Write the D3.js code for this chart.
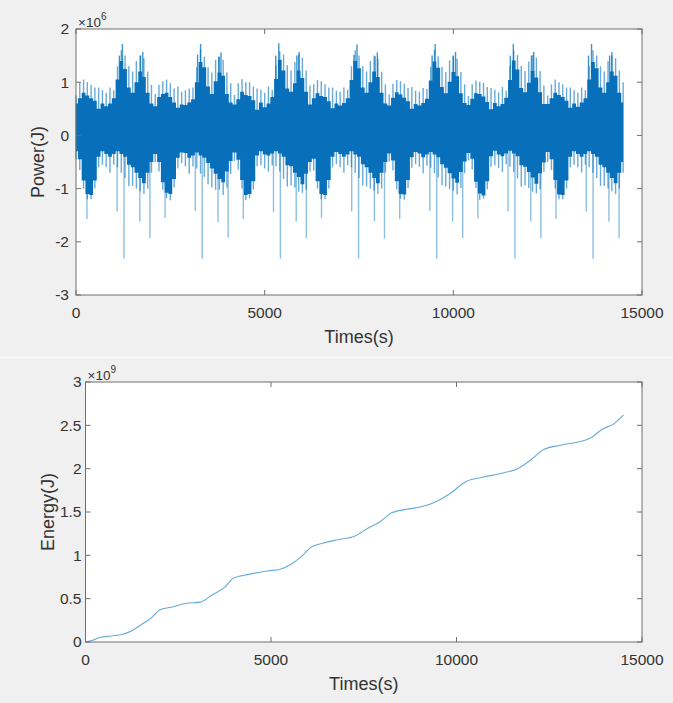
<!DOCTYPE html>
<html>
<head>
<meta charset="utf-8">
<script src="https://cdn.jsdelivr.net/npm/d3@7"></script>
<style>
  body { margin: 0; background: #f0f0f0; }
  svg { display: block; font-family: "Liberation Sans", Arial, sans-serif; }
</style>
</head>
<body>
<div id="chart"></div>
<script>
// power signal, binned every 100 s (values x1e6)
// dense dark band
const coreHi = [
  0.6, 0.7, 0.8, 0.75, 0.7, 0.65, 0.5, 0.6, 0.55, 0.6, 0.7, 1.05, 1.4, 1.25, 0.9, 0.8, 1.0, 1.2, 1.1, 0.8, 0.6,
  0.55, 0.72, 0.78, 0.8, 0.72, 0.62, 0.52, 0.58, 0.57, 0.62, 0.68, 1.0, 1.38, 1.28, 0.92, 0.78, 1.02, 1.18, 1.12, 0.78, 0.62,
  0.58, 0.68, 0.82, 0.76, 0.74, 0.66, 0.48, 0.62, 0.53, 0.6, 0.72, 1.06, 1.42, 1.22, 0.88, 0.82, 0.98, 1.22, 1.08, 0.82, 0.58,
  0.7, 0.79, 0.74, 0.72, 0.64, 0.51, 0.6, 0.56, 0.61, 0.7, 1.04, 1.4, 1.26, 0.9, 0.8, 1.0, 1.2, 1.1, 0.8, 0.6,
  0.56, 0.71, 0.81, 0.77, 0.71, 0.64, 0.5, 0.59, 0.56, 0.61, 0.69, 1.03, 1.39, 1.27, 0.91, 0.79, 1.01, 1.19, 1.11, 0.79, 0.61,
  0.57, 0.69, 0.79, 0.78, 0.73, 0.63, 0.49, 0.61, 0.55, 0.59, 0.71, 1.04, 1.41, 1.24, 0.89, 0.81, 0.99, 1.21, 1.09, 0.81, 0.59,
  0.59, 0.7, 0.8, 0.76, 0.72, 0.65, 0.52, 0.6, 0.54, 0.62, 0.7, 1.05, 1.38, 1.26, 0.9, 0.8, 1.0, 1.2, 1.12, 0.8, 0.62
];
const coreLo = [
  -0.3, -0.45, -0.85, -1.1, -1.12, -0.85, -0.4, -0.3, -0.35, -0.4, -0.35, -0.3, -0.35, -0.4, -0.55, -0.6, -0.7, -0.8, -0.9, -0.7, -0.5,
  -0.35, -0.5, -0.88, -1.08, -1.1, -0.82, -0.42, -0.32, -0.33, -0.42, -0.38, -0.32, -0.38, -0.42, -0.52, -0.62, -0.72, -0.82, -0.88, -0.68, -0.48,
  -0.32, -0.46, -0.84, -1.12, -1.1, -0.86, -0.38, -0.3, -0.36, -0.38, -0.34, -0.3, -0.34, -0.4, -0.56, -0.58, -0.7, -0.78, -0.92, -0.72, -0.5,
  -0.44, -0.86, -1.1, -1.12, -0.84, -0.4, -0.31, -0.35, -0.4, -0.36, -0.3, -0.36, -0.4, -0.54, -0.6, -0.7, -0.8, -0.9, -0.7, -0.5,
  -0.34, -0.47, -0.86, -1.1, -1.11, -0.84, -0.41, -0.31, -0.34, -0.41, -0.36, -0.31, -0.36, -0.41, -0.54, -0.61, -0.71, -0.81, -0.89, -0.69, -0.49,
  -0.33, -0.44, -0.87, -1.09, -1.13, -0.86, -0.39, -0.29, -0.36, -0.39, -0.34, -0.29, -0.34, -0.39, -0.56, -0.59, -0.69, -0.79, -0.91, -0.71, -0.51,
  -0.31, -0.45, -0.84, -1.11, -1.12, -0.85, -0.4, -0.3, -0.35, -0.4, -0.35, -0.3, -0.35, -0.4, -0.55, -0.6, -0.7, -0.8, -0.9, -0.7, -0.5
];
// lighter fringe around the band
const fringeHi = [
  0.75, 1.0, 1.05, 1.0, 0.95, 0.9, 0.9, 0.85, 0.8, 0.9, 0.85, 1.3, 1.6, 1.5, 1.3, 1.2, 1.4, 1.5, 1.45, 1.2, 0.95,
  0.78, 0.95, 1.02, 1.05, 0.98, 0.88, 0.92, 0.82, 0.85, 0.88, 0.9, 1.28, 1.62, 1.48, 1.28, 1.18, 1.42, 1.48, 1.42, 1.18, 0.98,
  0.76, 0.98, 1.06, 1.0, 1.0, 0.92, 0.88, 0.86, 0.8, 0.92, 0.86, 1.32, 1.58, 1.52, 1.32, 1.22, 1.38, 1.52, 1.46, 1.22, 0.94,
  0.96, 1.04, 1.02, 0.96, 0.9, 0.9, 0.84, 0.82, 0.9, 0.86, 1.3, 1.6, 1.5, 1.3, 1.2, 1.4, 1.5, 1.44, 1.2, 0.96,
  0.77, 0.97, 1.04, 1.02, 0.97, 0.89, 0.91, 0.84, 0.82, 0.89, 0.87, 1.29, 1.61, 1.49, 1.29, 1.19, 1.41, 1.49, 1.44, 1.19, 0.96,
  0.74, 0.96, 1.03, 1.01, 0.99, 0.91, 0.89, 0.86, 0.81, 0.91, 0.84, 1.31, 1.59, 1.51, 1.31, 1.21, 1.39, 1.51, 1.46, 1.21, 0.94,
  0.75, 0.96, 1.05, 1.0, 0.96, 0.9, 0.9, 0.85, 0.8, 0.9, 0.85, 1.3, 1.6, 1.5, 1.3, 1.2, 1.4, 1.5, 1.45, 1.22, 1.0
];
const fringeLo = [
  -0.45, -0.65, -1.0, -1.2, -1.2, -1.0, -0.6, -0.55, -0.6, -0.7, -0.55, -0.6, -0.7, -0.8, -0.95, -0.95, -1.0, -1.05, -1.1, -1.0, -0.7,
  -0.5, -0.68, -1.02, -1.18, -1.22, -0.98, -0.62, -0.52, -0.58, -0.72, -0.58, -0.62, -0.72, -0.78, -0.92, -0.98, -1.02, -1.02, -1.12, -0.98, -0.72,
  -0.48, -0.64, -1.0, -1.22, -1.18, -1.02, -0.58, -0.56, -0.62, -0.68, -0.56, -0.58, -0.68, -0.82, -0.96, -0.94, -0.98, -1.06, -1.08, -1.02, -0.68,
  -0.66, -1.0, -1.2, -1.2, -1.0, -0.6, -0.54, -0.6, -0.7, -0.56, -0.6, -0.7, -0.8, -0.94, -0.96, -1.0, -1.04, -1.1, -1.0, -0.7,
  -0.49, -0.66, -1.01, -1.19, -1.21, -0.99, -0.61, -0.54, -0.59, -0.71, -0.57, -0.61, -0.71, -0.79, -0.94, -0.96, -1.01, -1.04, -1.11, -0.99, -0.71,
  -0.47, -0.64, -0.99, -1.21, -1.19, -1.01, -0.59, -0.56, -0.61, -0.69, -0.54, -0.59, -0.69, -0.81, -0.96, -0.94, -0.99, -1.06, -1.09, -1.01, -0.69,
  -0.5, -0.65, -1.0, -1.2, -1.2, -1.0, -0.6, -0.55, -0.6, -0.7, -0.55, -0.6, -0.7, -0.8, -0.95, -0.95, -1.0, -1.05, -1.1, -1.0, -0.7
];
const binStep = 100;
const binTimes = coreHi.map((d, i) => i * binStep);

// isolated tall spikes (s, x1e6)
const spikeTimes = [
  290, 1090, 1150, 1230, 1272, 1692, 1710, 1770, 1960,
  2362, 3162, 3222, 3302, 3344, 3764, 3782, 3842, 4032,
  4434, 5234, 5294, 5374, 5416, 5836, 5854, 5914, 6104,
  6506, 7306, 7366, 7446, 7488, 7908, 7926, 7986, 8176,
  8578, 9378, 9438, 9518, 9560, 9980, 9998, 10058, 10248,
  10650, 11450, 11510, 11590, 11632, 12052, 12070, 12130, 12320,
  12722, 13522, 13582, 13662, 13704, 14124, 14142, 14202, 14392
];
const spikeValues = [
  -1.57, -1.43, 1.5, 1.72, -2.32, -1.62, 1.5, 1.57, -1.93,
  -1.55, -1.42, 1.52, 1.72, -2.32, -1.63, 1.48, 1.56, -1.92,
  -1.57, -1.44, 1.5, 1.73, -2.32, -1.62, 1.5, 1.57, -1.93,
  -1.56, -1.43, 1.51, 1.71, -2.32, -1.61, 1.49, 1.56, -1.94,
  -1.57, -1.42, 1.5, 1.72, -2.32, -1.62, 1.5, 1.57, -1.93,
  -1.56, -1.43, 1.5, 1.72, -2.32, -1.62, 1.5, 1.57, -1.93,
  -1.57, -1.43, 1.5, 1.72, -2.32, -1.62, 1.5, 1.57, -1.93
];

// cumulative energy (s, x1e9)
const energyTimes = [0, 200, 400, 700, 1000, 1250, 1500, 1750, 2000, 2300, 2700, 3100, 3400, 3750, 4000, 4400,
  4900, 5250, 5550, 5800, 6100, 6400, 6800, 7250, 7600, 7950, 8250, 8650, 9050, 9400, 9850, 10250,
  10700, 11250, 11650, 12000, 12350, 12800, 13300, 13600, 13950, 14250, 14500];
const energyValues = [0, 0.02, 0.055, 0.07, 0.09, 0.13, 0.2, 0.27, 0.37, 0.4, 0.445, 0.46, 0.54, 0.63, 0.74, 0.78,
  0.82, 0.84, 0.9, 0.98, 1.1, 1.14, 1.18, 1.22, 1.31, 1.39, 1.49, 1.53, 1.56, 1.61, 1.72, 1.85,
  1.9, 1.95, 2.0, 2.1, 2.22, 2.27, 2.31, 2.35, 2.46, 2.52, 2.62];

const timeTicks = [0, 5000, 10000, 15000];
const powerTicks = [-3, -2, -1, 0, 1, 2];
const energyTicks = [0, 0.5, 1, 1.5, 2, 2.5, 3];

const W = 673, H = 703;
const blue = '#0072bd';
const frameColor = '#6f6f6f';
const textColor = '#333333';

const svg = d3.select('#chart').append('svg')
  .attr('width', W)
  .attr('height', H);

svg.append('rect').attr('width', W).attr('height', H).attr('fill', '#f0f0f0');
svg.append('line')
  .attr('x1', 0).attr('x2', W)
  .attr('y1', 357.5).attr('y2', 357.5)
  .attr('stroke', '#fbfbfb')
  .attr('stroke-width', 1.5);

const drawFrame = (box, x, y, yTicks, yFmt, yLabel, expo, labelGap) => {
  const g = svg.append('g');

  // ticks pointing inward on all four sides
  timeTicks.forEach((t) => {
    [[box.bottom, -5], [box.top, 5]].forEach(([yy, len]) => {
      g.append('line')
        .attr('x1', x(t)).attr('x2', x(t))
        .attr('y1', yy).attr('y2', yy + len)
        .attr('stroke', frameColor);
    });
    g.append('text')
      .attr('x', x(t))
      .attr('y', box.bottom + 18)
      .attr('dy', '0.35em')
      .attr('text-anchor', 'middle')
      .attr('font-size', 15.5)
      .attr('fill', textColor)
      .text(t);
  });

  yTicks.forEach((v) => {
    [[box.left, 5], [box.right, -5]].forEach(([xx, len]) => {
      g.append('line')
        .attr('x1', xx).attr('x2', xx + len)
        .attr('y1', y(v)).attr('y2', y(v))
        .attr('stroke', frameColor);
    });
    g.append('text')
      .attr('x', box.left - labelGap)
      .attr('y', y(v))
      .attr('dy', '0.35em')
      .attr('text-anchor', 'end')
      .attr('font-size', 15.5)
      .attr('fill', textColor)
      .text(yFmt(v));
  });

  g.append('rect')
    .attr('x', box.left).attr('y', box.top)
    .attr('width', box.right - box.left)
    .attr('height', box.bottom - box.top)
    .attr('fill', 'none')
    .attr('stroke', frameColor);

  g.append('text')
    .attr('x', (box.left + box.right) / 2)
    .attr('y', box.bottom + 42)
    .attr('dy', '0.35em')
    .attr('text-anchor', 'middle')
    .attr('font-size', 18)
    .attr('fill', textColor)
    .text('Times(s)');

  g.append('text')
    .attr('transform', `translate(${box.left - 38},${(box.top + box.bottom) / 2}) rotate(-90)`)
    .attr('dy', '0.35em')
    .attr('text-anchor', 'middle')
    .attr('font-size', 18)
    .attr('fill', textColor)
    .text(yLabel);

  const ex = g.append('text')
    .attr('x', box.left + 2)
    .attr('y', box.top - 2)
    .attr('fill', textColor)
    .attr('font-size', 13.5);
  ex.append('tspan').text('\u00d710');
  ex.append('tspan').attr('font-size', 10).attr('dy', -7).text(expo);
};

// ---- top: power
const pBox = { left: 76, right: 642, top: 29, bottom: 295 };
const xP = d3.scaleLinear().domain([0, 15000]).range([pBox.left, pBox.right]);
const yP = d3.scaleLinear().domain([-3, 2]).range([pBox.bottom, pBox.top]);

svg.append('rect')
  .attr('x', pBox.left).attr('y', pBox.top)
  .attr('width', pBox.right - pBox.left).attr('height', pBox.bottom - pBox.top)
  .attr('fill', '#fff');

const pg = svg.append('g');

pg.selectAll('line.fringe')
  .data(binTimes)
  .enter()
  .append('line')
  .attr('class', 'fringe')
  .attr('x1', d => xP(d)).attr('x2', d => xP(d))
  .attr('y1', (d, i) => yP(fringeHi[i]))
  .attr('y2', (d, i) => yP(fringeLo[i]))
  .attr('stroke', blue)
  .attr('stroke-width', 1.4)
  .attr('stroke-opacity', 0.6);

pg.selectAll('line.spike')
  .data(spikeTimes)
  .enter()
  .append('line')
  .attr('class', 'spike')
  .attr('x1', d => xP(d)).attr('x2', d => xP(d))
  .attr('y1', yP(0))
  .attr('y2', (d, i) => yP(spikeValues[i]))
  .attr('stroke', blue)
  .attr('stroke-width', 1.4)
  .attr('stroke-opacity', (d, i) => (spikeValues[i] > 0 ? 0.75 : 0.45));

// dark band drawn as steps so its edge stays ragged like the dense trace
const core = d3.area()
  .x(d => xP(d))
  .y0((d, i) => yP(coreLo[i]))
  .y1((d, i) => yP(coreHi[i]))
  .curve(d3.curveStep);

pg.append('path')
  .datum(binTimes)
  .attr('d', core)
  .attr('fill', '#0870bb');

drawFrame(pBox, xP, yP, powerTicks, d => d3.format('d')(d).replace('\u2212', '-'), 'Power(J)', '6', 7);

// ---- bottom: energy
const eBox = { left: 85.5, right: 642, top: 382, bottom: 642 };
const xE = d3.scaleLinear().domain([0, 15000]).range([eBox.left, eBox.right]);
const yE = d3.scaleLinear().domain([0, 3]).range([eBox.bottom, eBox.top]);

svg.append('rect')
  .attr('x', eBox.left).attr('y', eBox.top)
  .attr('width', eBox.right - eBox.left).attr('height', eBox.bottom - eBox.top)
  .attr('fill', '#fff');

const energyLine = d3.line()
  .x(d => xE(d))
  .y((d, i) => yE(energyValues[i]))
  .curve(d3.curveMonotoneX);

svg.append('path')
  .datum(energyTimes)
  .attr('d', energyLine)
  .attr('fill', 'none')
  .attr('stroke', blue)
  .attr('stroke-width', 1.1)
  .attr('stroke-opacity', 0.6);

drawFrame(eBox, xE, yE, energyTicks, d => String(d), 'Energy(J)', '9', 4);
</script>
</body>
</html>
